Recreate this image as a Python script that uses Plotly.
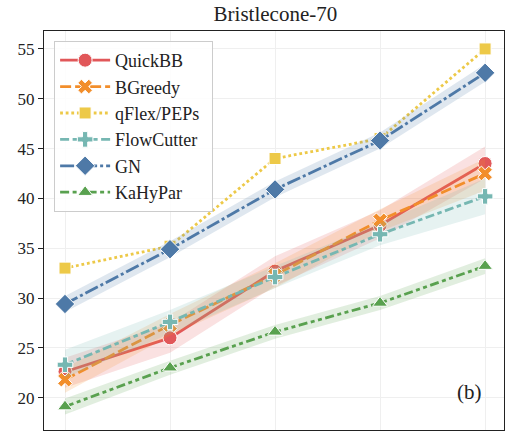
import plotly.graph_objects as go

x_idx = [0, 1, 2, 3, 4]

series_names = ["QuickBB", "BGreedy", "qFlex/PEPs", "FlowCutter", "GN", "KaHyPar"]

quickbb = [22.6, 26.0, 32.7, 37.3, 43.5]
quickbb_lo = [21.0, 24.5, 31.2, 36.0, 42.0]
quickbb_hi = [24.0, 27.5, 34.2, 38.8, 45.2]

bgreedy = [21.8, 27.3, 32.3, 37.8, 42.5]
bgreedy_lo = [20.5, 26.2, 31.0, 36.7, 40.8]
bgreedy_hi = [23.0, 28.4, 33.5, 38.9, 44.0]

qflex = [33.0, 35.2, 44.0, 46.0, 55.0]

flowcutter = [23.3, 27.6, 32.1, 36.4, 40.2]
flowcutter_lo = [22.0, 26.4, 31.0, 35.3, 38.4]
flowcutter_hi = [24.8, 28.8, 33.2, 37.5, 42.0]

gn = [29.4, 34.9, 40.9, 45.8, 52.6]
gn_lo = [28.6, 34.1, 40.1, 45.0, 51.7]
gn_hi = [30.2, 35.7, 41.7, 46.6, 53.5]

kahypar = [19.1, 23.0, 26.6, 29.5, 33.2]
kahypar_lo = [18.3, 22.3, 25.9, 28.8, 32.4]
kahypar_hi = [19.9, 23.7, 27.3, 30.2, 34.0]

y_ticks = [20, 25, 30, 35, 40, 45, 50, 55]

colors = ["#e15759", "#f28e2b", "#edc948", "#76b7b2", "#4e79a7", "#59a14f"]
fills = ["rgba(225,87,89,0.18)", "rgba(242,142,43,0.18)", None,
         "rgba(118,183,178,0.18)", "rgba(78,121,167,0.18)", "rgba(89,161,79,0.18)"]
dashes = ["solid", "11px,4px", "2.8px,2.8px", "9px,3.5px,4.5px,3.5px",
          "14px,3px,3px,3px", "9px,3.5px,4px,3.5px,4px,3.5px"]
symbols = ["circle", "x", "square", "cross", "diamond", "triangle-up"]
msizes = [14, 13, 12, 13, 15, 13]

data = [
    (quickbb, quickbb_lo, quickbb_hi),
    (bgreedy, bgreedy_lo, bgreedy_hi),
    (qflex, None, None),
    (flowcutter, flowcutter_lo, flowcutter_hi),
    (gn, gn_lo, gn_hi),
    (kahypar, kahypar_lo, kahypar_hi),
]

FONT = "Liberation Serif, Times New Roman, serif"
SPACER = "<span style='font-size:28px'> </span>"

fig = go.Figure()
for i, name in enumerate(series_names):
    vals, lo, hi = data[i]
    if lo is not None:
        fig.add_trace(go.Scatter(x=x_idx, y=hi, mode="lines", line=dict(width=0),
                                 showlegend=False, hoverinfo="skip"))
        fig.add_trace(go.Scatter(x=x_idx, y=lo, mode="lines", line=dict(width=0),
                                 fill="tonexty", fillcolor=fills[i],
                                 showlegend=False, hoverinfo="skip"))
    fig.add_trace(go.Scatter(
        x=x_idx, y=vals, mode="lines+markers", name=name + SPACER,
        line=dict(color=colors[i], width=2.8, dash=dashes[i]),
        marker=dict(symbol=symbols[i], size=msizes[i], color=colors[i],
                    line=dict(color="white", width=1)),
    ))

fig.add_annotation(x=0.926, y=0.095, xref="paper", yref="paper", text="(b)",
                   xanchor="center", yanchor="middle",
                   showarrow=False, font=dict(family=FONT, size=21, color="#222"))

fig.update_layout(
    width=510, height=433,
    margin=dict(l=44, r=6, t=31, b=3),
    paper_bgcolor="white", plot_bgcolor="white",
    title=dict(text="Bristlecone-70", x=0.54, xanchor="center", y=0.968, yanchor="middle",
               font=dict(family=FONT, size=21, color="#222")),
    font=dict(family=FONT, color="#222"),
    showlegend=True,
    legend=dict(x=0.022, y=0.975, xanchor="left", yanchor="top",
                traceorder="normal", itemwidth=50,
                bgcolor="rgba(255,255,255,0.85)", bordercolor="#cccccc", borderwidth=1,
                font=dict(family=FONT, size=18, color="#222"),
                tracegroupgap=0),
)
fig.update_xaxes(range=[-0.2, 4.18], tickvals=x_idx, showticklabels=False,
                 showgrid=True, gridcolor="#efefef", gridwidth=1, zeroline=False,
                 showline=True, mirror=True, linecolor="#222", linewidth=1.3, ticks="")
fig.update_yaxes(range=[16.75, 56.8], tickvals=y_ticks,
                 showgrid=True, gridcolor="#efefef", gridwidth=1, zeroline=False,
                 showline=True, mirror=True, linecolor="#222", linewidth=1.3,
                 ticks="outside", ticklen=5, tickcolor="#222",
                 tickfont=dict(family=FONT, size=17, color="#222"))

fig.write_html("out.html")
